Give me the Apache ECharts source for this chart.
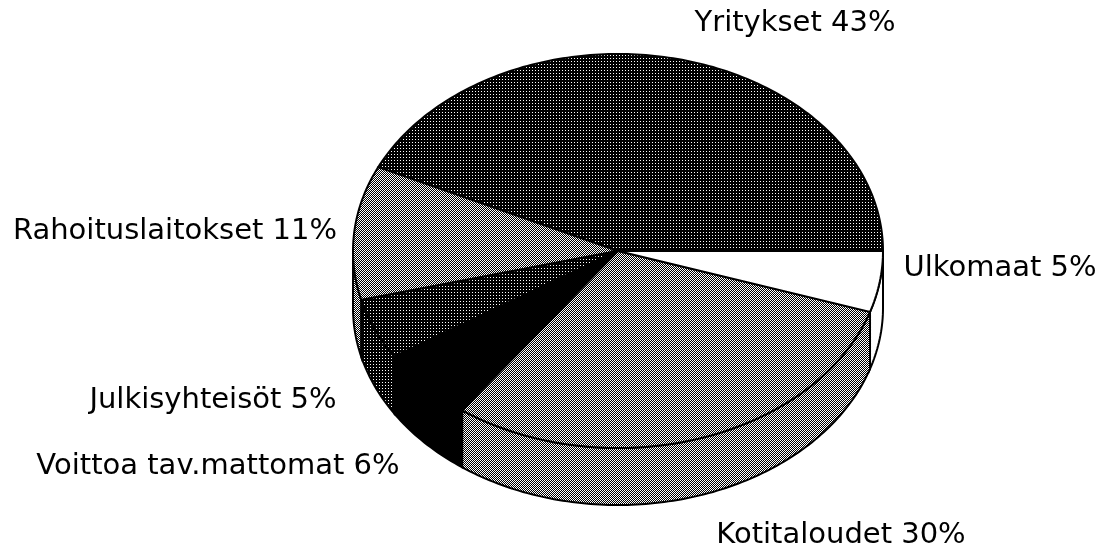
<!DOCTYPE html>
<html lang="fi">
<head>
<meta charset="UTF-8" />
<title>Sektorijakauma</title>
<style>
  html, body { margin: 0; background: #fff; }
  #chart { width: 1103px; height: 552px; }
</style>
</head>
<body>
<div id="chart"></div>
<script src="https://cdn.jsdelivr.net/npm/echarts@6/dist/echarts.min.js"></script>
<script>
// data
const sectors = ['Yritykset', 'Rahoituslaitokset', 'Julkisyhteisöt', 'Voittoa tav.mattomat', 'Kotitaloudet', 'Ulkomaat'];
const shares = [43, 11, 5, 6, 30, 5];

// layout (pixels)
const pie = { cx: 618, cy: 251, rx: 265, ry: 197, depth: 57 };
const labelAt = [[795, 23], [175, 231], [213, 400], [218, 466], [841, 535], [1000, 268]];

// dithered fills, drawn on small canvases
function dots(size, whites) {
  const c = document.createElement('canvas');
  c.width = size; c.height = size;
  const g = c.getContext('2d');
  g.fillStyle = '#000';
  g.fillRect(0, 0, size, size);
  g.fillStyle = '#fff';
  whites.forEach(([x, y]) => g.fillRect(x, y, 1, 1));
  return { image: c, repeat: 'repeat' };
}
const fills = [
  dots(3, [[1, 1]]),
  dots(2, [[0, 0], [1, 1]]),
  dots(3, [[1, 1]]),
  '#000',
  dots(2, [[0, 0], [1, 1]]),
  '#fff'
];

const total = shares.reduce((a, b) => a + b, 0);
const startAngle = [];
shares.reduce((acc, v, i) => { startAngle[i] = acc; return acc + v / total * 360; }, 0);

function renderItem(params, api) {
  const i = params.dataIndex;
  const a0 = startAngle[i];
  const a1 = a0 + shares[i] / total * 360;
  const pt = (deg, dy) => {
    const r = deg * Math.PI / 180;
    return api.coord([pie.cx + pie.rx * Math.cos(r), pie.cy - pie.ry * Math.sin(r) + dy]);
  };
  const children = [];

  // side wall, only the front half is seen
  const w0 = Math.max(a0, 180), w1 = Math.min(a1, 360);
  if (w1 > w0) {
    const wall = [];
    for (let d = w0; d < w1; d += 1) wall.push(pt(d, 0));
    wall.push(pt(w1, 0));
    for (let d = w1; d > w0; d -= 1) wall.push(pt(d, pie.depth));
    wall.push(pt(w0, pie.depth));
    children.push({
      type: 'polygon',
      shape: { points: wall },
      style: { fill: fills[i], stroke: '#000', lineWidth: 2 }
    });
  }

  // top face
  const top = [api.coord([pie.cx, pie.cy])];
  for (let d = a0; d < a1; d += 1) top.push(pt(d, 0));
  top.push(pt(a1, 0));
  children.push({
    type: 'polygon', z2: 1,
    shape: { points: top },
    style: { fill: fills[i], stroke: '#000', lineWidth: 2 }
  });

  const [lx, ly] = api.coord(labelAt[i]);
  children.push({
    type: 'text', z2: 20,
    style: {
      x: lx, y: ly,
      text: sectors[i] + ' ' + shares[i] + '%',
      font: '29px "DejaVu Sans"',
      fill: '#000',
      textAlign: 'center',
      textVerticalAlign: 'middle'
    }
  });
  return { type: 'group', children: children };
}

const chart = echarts.init(document.getElementById('chart'));
chart.setOption({
  animation: false,
  backgroundColor: '#fff',
  grid: { left: 0, right: 0, top: 0, bottom: 0 },
  xAxis: { type: 'value', min: 0, max: 1103, show: false },
  yAxis: { type: 'value', min: 0, max: 552, inverse: true, show: false },
  series: [{
    type: 'custom',
    clip: false,
    renderItem: renderItem,
    data: shares.map((v, i) => [i, v])
  }]
});
</script>
</body>
</html>
